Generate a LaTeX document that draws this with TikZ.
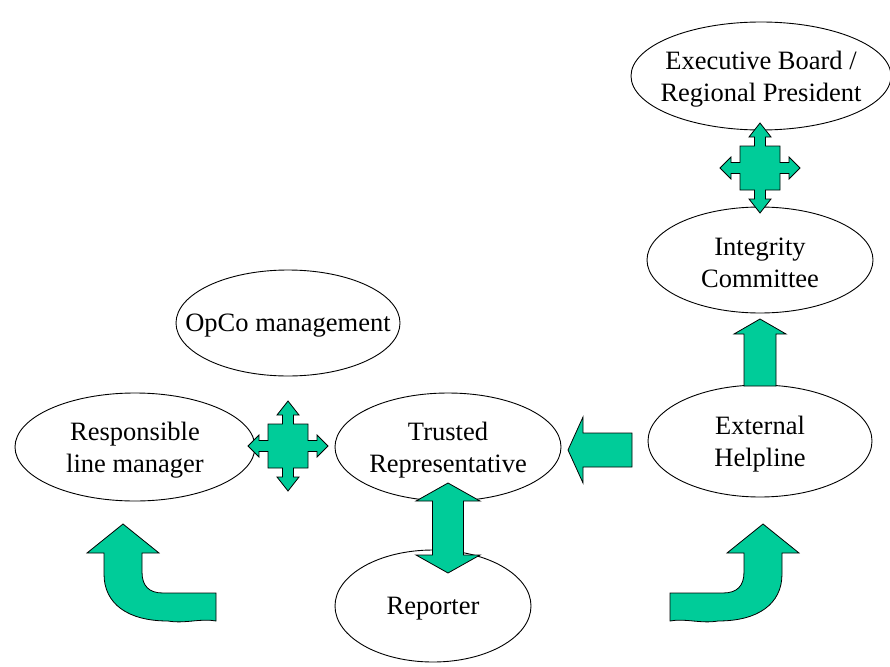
\documentclass[tikz,border=0pt]{standalone}
\usepackage{fontspec}
\setmainfont{Liberation Serif}
\usetikzlibrary{shapes.geometric}
\definecolor{arrowgreen}{RGB}{0,204,153}
\tikzset{
  bubble/.style={draw, ellipse, line width=0.9pt, inner sep=0pt},
  bubtext/.style={align=center, inner sep=0pt, yshift=-3pt, font=\fontsize{26.5}{32}\selectfont},
  blockarrow/.style={draw, fill=arrowgreen, line width=0.8pt, line join=miter},
  quadarrow/.pic={
    \path[blockarrow] (0,-45) -- (11,-31) -- (5.5,-31) -- (5.5,-22) -- (20,-22) -- (20,-5.5)
      -- (29,-5.5) -- (29,-11) -- (40,0) -- (29,11) -- (29,5.5) -- (20,5.5) -- (20,22)
      -- (5.5,22) -- (5.5,31) -- (11,31) -- (0,45) -- (-11,31) -- (-5.5,31) -- (-5.5,22)
      -- (-20,22) -- (-20,5.5) -- (-29,5.5) -- (-29,11) -- (-40,0) -- (-29,-11) -- (-29,-5.5)
      -- (-20,-5.5) -- (-20,-22) -- (-5.5,-22) -- (-5.5,-31) -- (-11,-31) -- cycle;
  },
  bentarrow/.pic={
    \path[blockarrow] (0,0) -- (36,29) -- (19,29) -- (19,48) .. controls (19,62) and (26,69) .. (40,69)
      -- (93,69) -- (93,97) .. controls (78,94) and (62,100) .. (45,97)
      .. controls (5,97) and (-19,80) .. (-19,50) -- (-19,29) -- (-36,29) -- cycle;
  },
}
\begin{document}
\begin{tikzpicture}[x=1pt, y=-1pt]
            \path[fill=white, use as bounding box] (0,0) rectangle (890,666);
            \node[bubble, minimum width=260pt, minimum height=108pt,
              label={[bubtext]center:{Executive Board /\\Regional President}}] (exec) at (761,76) {};
            \node[bubble, minimum width=226pt, minimum height=106pt,
              label={[bubtext]center:{Integrity\\Committee}}] (integrity) at (760,260) {};
            \node[bubble, minimum width=224pt, minimum height=106pt,
              label={[bubtext]center:{OpCo management}}] (opco) at (288,323) {};
            \node[bubble, minimum width=240pt, minimum height=108pt,
              label={[bubtext]center:{Responsible\\line manager}}] (manager) at (135,447) {};
            \node[bubble, minimum width=226pt, minimum height=108pt,
              label={[bubtext]center:{Trusted\\Representative}}] (trusted) at (448,447) {};
            \node[bubble, minimum width=224pt, minimum height=112pt,
              label={[bubtext]center:{External\\Helpline}}] (helpline) at (760,441) {};
            \node[bubble, minimum width=196pt, minimum height=112pt,
              label={[bubtext]center:{Reporter}}] (reporter) at (433,606) {};
            \pic at (288,446) {quadarrow};
            \pic at (760,168) {quadarrow};
            \path[blockarrow] (448,483) -- (480,501) -- (463.5,501) -- (463.5,555) -- (480,555) -- (448,573)
              -- (416,555) -- (432.5,555) -- (432.5,501) -- (416,501) -- cycle;
            \path[blockarrow] (568,450) -- (583,417) -- (583,433) -- (632,433) -- (632,467) -- (583,467) -- (583,483) -- cycle;
            \path[blockarrow] (760,319) -- (786,334) -- (776,334) -- (776,386) -- (744,386) -- (744,334) -- (734,334) -- cycle;
            \pic at (123,524) {bentarrow};
            \pic[xscale=-1] at (763,524) {bentarrow};
        \end{tikzpicture}
\end{document}
